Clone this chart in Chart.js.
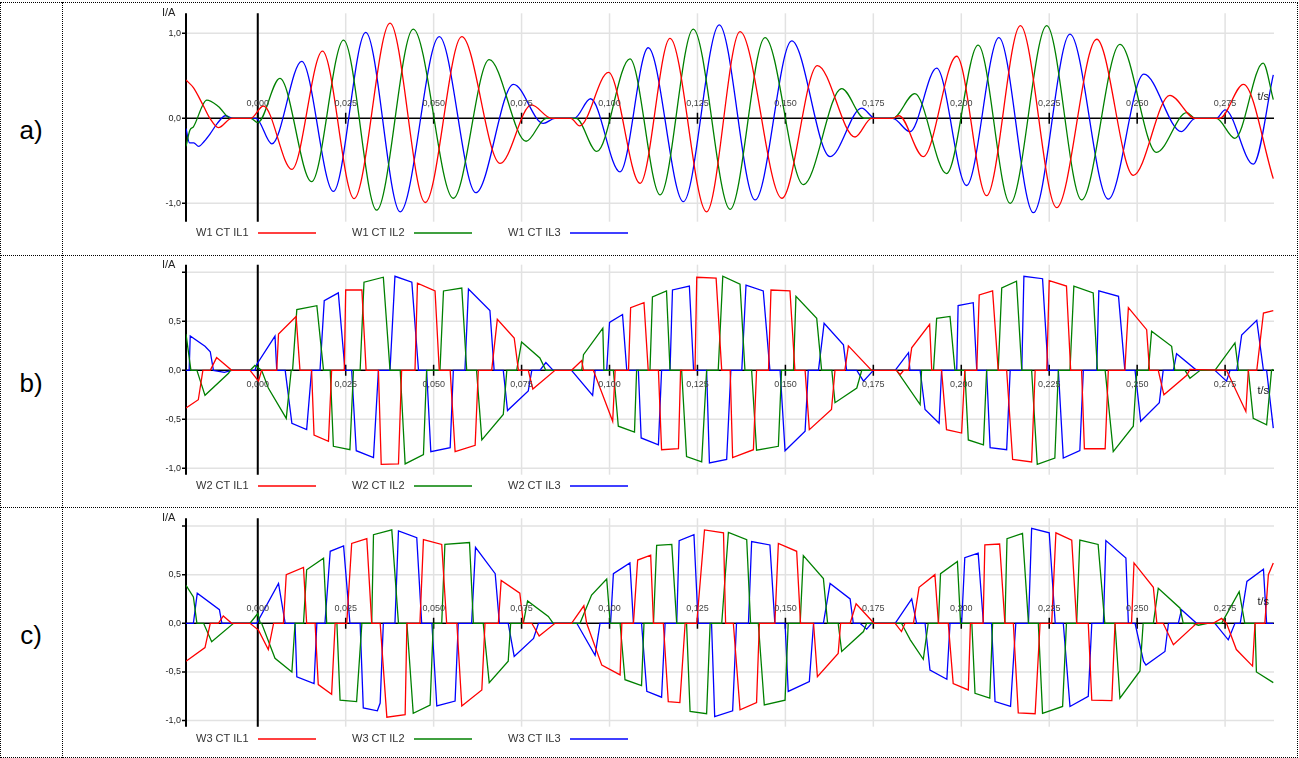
<!DOCTYPE html>
<html>
<head>
  <meta charset="utf-8">
  <title>W1/W2/W3 CT IL</title>
  <script src="https://cdn.jsdelivr.net/npm/chart.js@4.4.1/dist/chart.umd.min.js"></script>
  <style>
    body { margin: 0; background: #fff; font-family: "Liberation Sans", Arial, sans-serif; }
    #page { position: relative; width: 1299px; height: 758px; overflow: hidden; }
    .frame { position: absolute; border: 1px dotted #000; box-sizing: border-box; }
    .hsep { position: absolute; left: 0; width: 1298px; border-top: 1px dotted #000; }
    .vsep { position: absolute; left: 62px; top: 2px; height: 756px; border-left: 1px dotted #000; }
    .tag { position: absolute; left: 0; width: 62px; text-align: center; font-size: 26px; line-height: 30px; color: #000; }
    canvas { position: absolute; left: 0; }
  </style>
</head>
<body>
<div id="page">
  <div class="frame" style="left:0;top:2px;width:1298px;height:756px"></div>
  <div class="hsep" style="top:255px"></div>
  <div class="hsep" style="top:507px"></div>
  <div class="vsep"></div>
  <div class="tag" style="top:115px">a)</div>
  <div class="tag" style="top:368px">b)</div>
  <div class="tag" style="top:620px">c)</div>
  <canvas id="ca" width="1299" height="253" style="top:0"></canvas>
  <canvas id="cb" width="1299" height="253" style="top:253px"></canvas>
  <canvas id="cc" width="1299" height="252" style="top:506px"></canvas>
</div>
<script>
  // time in ms, current in A

  var X_MIN = -20.4, X_MAX = 288.9;
  var X_TICKS = [0, 25, 50, 75, 100, 125, 150, 175, 200, 225, 250, 275];
  var X_LABELS = ['0,000', '0,025', '0,050', '0,075', '0,100', '0,125', '0,150', '0,175', '0,200', '0,225', '0,250', '0,275'];
  var Y_TICKS_A = [-1, 0, 1];
  var Y_LABELS_A = ['-1,0', '0,0', '1,0'];
  var Y_TICKS_BC = [-1, -0.5, 0, 0.5, 1];
  var Y_LABELS_BC = ['-1,0', '-0,5', '0,0', '0,5', ''];
  var COLORS = ['#ff0000', '#008000', '#0000ff'];

  var NAMES_A = ['W1 CT IL1', 'W1 CT IL2', 'W1 CT IL3'];
  var NAMES_B = ['W2 CT IL1', 'W2 CT IL2', 'W2 CT IL3'];
  var NAMES_C = ['W3 CT IL1', 'W3 CT IL2', 'W3 CT IL3'];

  // a) peaks / troughs of the sine-like currents
  var A_IL1 = [[-20.4,0.45],[-18.3,0.36],[-15.5,0.15],[-13.6,0],[-11.2,-0.11],[-7.4,0],[-2.0,0],[1.6,0.145],[9.7,-0.60],[18.4,0.79],[27.4,-0.945],[37.6,1.12],[47.6,-0.99],[58.0,0.96],[68.9,-0.53],[77.8,0.157],[83.5,0],[89.0,0],[91.5,-0.09],[99.7,0.54],[108.7,-0.765],[117.2,0.94],[127.6,-1.10],[137.1,1.02],[149.0,-0.94],[159.1,0.62],[169.8,-0.22],[174.5,0],[180.5,0],[182.3,0.03],[189.2,-0.45],[198.7,0.73],[207.2,-0.91],[216.8,1.09],[227.1,-1.05],[238.5,0.93],[248.9,-0.67],[259.3,0.27],[266.5,0],[273.5,0],[280.2,0.40],[288.7,-0.71]];
  var A_IL2 = [[-20.4,-0.33],[-19.3,-0.14],[-18.3,-0.10],[-14.5,0.215],[-11.2,0.14],[-7.7,0],[-2.0,0],[0,-0.05],[6.3,0.47],[15.3,-0.745],[24.4,0.92],[33.8,-1.08],[44.2,1.05],[55.6,-0.94],[65.8,0.69],[76.3,-0.27],[82.0,0],[90.5,0],[96.4,-0.39],[105.8,0.70],[114.4,-0.90],[123.8,1.05],[134.3,-1.07],[144.2,0.95],[155.1,-0.78],[166.0,0.35],[172.5,0],[180.5,0],[186.8,0.29],[195.8,-0.65],[204.8,0.86],[213.9,-1.0],[224.3,1.09],[234.2,-0.96],[245.1,0.87],[255.5,-0.40],[264.1,0.067],[266.5,0],[272.5,0],[277.8,-0.235],[285.8,0.65],[288.7,0.22]];
  var A_IL3 = [[-20.4,-0.12],[-19.4,-0.29],[-18.2,-0.29],[-16.8,-0.33],[-15.2,-0.27],[-13.5,-0.18],[-11.5,-0.06],[-9.2,0.03],[-7.0,0],[-0.5,0],[4.0,-0.30],[12.5,0.67],[21.5,-0.86],[30.7,1.01],[40.5,-1.10],[51.6,0.96],[62.0,-0.875],[72.7,0.40],[81.2,-0.06],[84.5,0],[90.0,0],[94.6,0.23],[103.0,-0.63],[111.0,0.83],[121.0,-0.98],[131.2,1.10],[141.4,-0.96],[151.8,0.91],[162.7,-0.45],[171.7,0.12],[175.5,0],[180.5,0],[185.4,-0.157],[193.0,0.59],[201.5,-0.79],[210.7,0.95],[220.5,-1.11],[230.9,0.99],[241.8,-0.95],[251.9,0.52],[262.6,-0.157],[266.5,0],[272.5,0],[275.0,0.10],[283.0,-0.54],[288.7,0.51]];

  // b) pulse shaped currents, corner points
  var B_IL1 = [[-20.4,-0.385],[-16.9,-0.30],[-15.6,0],[-13.5,0],[-11.7,0.13],[-7.4,0],[-2.2,0],[0.2,-0.11],[1.1,0],[5.4,0],[5.9,0.37],[10.9,0.55],[12.0,0],[15.3,0],[16.0,-0.66],[20.1,-0.725],[21.0,0],[24.6,0],[25.0,0.82],[29.6,0.82],[30.8,0],[34.3,0],[35.1,-0.96],[40.0,-0.955],[40.9,0],[44.7,0],[45.4,0.89],[50.4,0.81],[51.6,0],[54.7,0],[56.1,-0.83],[61.8,-0.765],[62.7,0],[66.5,0],[68.1,0.52],[72.9,0.33],[74.1,0],[76.9,0],[78.2,-0.19],[84.5,0],[89.2,0],[92.1,0.10],[92.6,0],[95.4,0],[100.9,-0.52],[101.6,0],[105.4,0],[106.0,0.64],[109.8,0.69],[111.0,0],[113.9,0],[114.8,-0.81],[119.6,-0.80],[120.2,0],[124.3,0],[124.8,0.95],[130.3,0.94],[131.9,0],[134.3,0],[135.0,-0.89],[140.9,-0.81],[141.8,0],[145.2,0],[145.9,0.82],[151.3,0.81],[152.7,0],[155.6,0],[156.8,-0.605],[163.1,-0.40],[164.1,0],[166.9,0],[167.9,0.25],[174.5,0],[181.6,0],[182.6,-0.045],[183.6,0],[185.0,0],[185.9,0.23],[191.0,0.47],[191.6,0],[194.4,0],[195.8,-0.605],[200.1,-0.64],[201.0,0],[204.4,0],[205.1,0.77],[208.9,0.81],[210.5,0],[212.9,0],[214.6,-0.91],[220.0,-0.935],[221.0,0],[224.3,0],[225.0,0.915],[229.9,0.86],[231.1,0],[234.2,0],[235.0,-0.80],[240.9,-0.80],[241.8,0],[246.5,0],[247.5,0.64],[252.7,0.415],[253.5,0],[256.0,0],[257.6,-0.25],[264.1,-0.05],[265.0,0.01],[275.4,0],[280.9,-0.42],[281.6,0],[284.0,0],[285.9,0.585],[288.7,0.61]];
  var B_IL2 = [[-20.4,0.37],[-19.0,0],[-17.3,0],[-15.0,-0.255],[-8.3,-0.03],[-7.8,0],[-2.2,0],[-0.8,0.05],[1.1,0],[3.0,-0.18],[8.1,-0.49],[9.5,0],[9.9,0],[11.1,0.62],[16.8,0.66],[18.7,0],[20.6,0],[21.5,-0.775],[26.2,-0.81],[27.2,0],[29.1,0],[30.2,0.90],[35.7,0.95],[37.6,0],[40.5,0],[41.9,-0.955],[47.1,-0.86],[48.0,0],[51.8,0],[52.8,0.81],[58.0,0.84],[59.4,0],[62.2,0],[63.7,-0.71],[69.8,-0.45],[70.8,0],[73.6,0],[75.0,0.29],[80.2,0.126],[81.9,0],[92.1,0],[92.6,0.16],[98.1,0.43],[98.4,0],[101.1,0],[102.5,-0.57],[107.1,-0.63],[107.7,0],[111.5,0],[112.2,0.75],[116.2,0.81],[117.2,0],[120.5,0],[121.9,-0.88],[126.2,-0.935],[127.6,0],[130.9,0],[132.2,0.96],[137.1,0.88],[138.5,0],[140.4,0],[141.8,-0.815],[148.0,-0.775],[148.9,0],[152.3,0],[153.0,0.755],[158.9,0.53],[160.3,0],[163.2,0],[164.1,-0.33],[170.3,-0.18],[171.7,0],[181.6,0],[188.3,-0.35],[188.7,0],[192.1,0],[193.0,0.53],[196.8,0.55],[198.2,0],[201.0,0],[202.0,-0.71],[206.3,-0.76],[207.2,0],[210.5,0],[211.5,0.84],[215.7,0.91],[217.2,0],[220.0,0],[221.6,-0.96],[226.6,-0.895],[227.6,0],[230.9,0],[232.0,0.86],[237.5,0.79],[238.7,0],[240.9,0],[243.2,-0.83],[248.9,-0.57],[249.9,0],[253.2,0],[254.1,0.40],[259.8,0.245],[260.7,0],[263.6,0],[265.0,-0.08],[267.9,0],[272.1,0],[277.8,0.28],[278.8,0],[281.6,0],[283.0,-0.49],[286.8,-0.555],[288.2,0],[288.7,0.01]];
  var B_IL3 = [[-20.4,0],[-19.5,0],[-19.2,0.35],[-15.0,0.245],[-13.5,0.19],[-12.6,0],[-9.5,-0.02],[-7.4,0],[-0.8,0],[-0.3,0.06],[4.9,0.35],[5.4,0],[7.8,0],[9.7,-0.54],[13.9,-0.605],[15.3,0],[17.7,0],[18.9,0.71],[22.9,0.79],[24.8,0],[26.7,0],[28.0,-0.82],[32.9,-0.89],[34.3,0],[37.6,0],[39.0,0.96],[43.8,0.90],[45.7,0],[48.0,0],[49.2,-0.83],[54.7,-0.79],[55.6,0],[58.9,0],[59.9,0.83],[66.0,0.61],[67.2,0],[69.8,0],[71.0,-0.41],[76.9,-0.21],[77.9,0],[80.2,0],[81.9,0.08],[84.0,0],[89.2,0],[95.2,-0.255],[95.9,0],[99.2,0],[100.0,0.49],[103.7,0.57],[104.9,0],[108.2,0],[109.0,-0.69],[113.9,-0.76],[114.8,0],[117.2,0],[117.9,0.82],[122.7,0.86],[123.9,0],[127.6,0],[128.4,-0.945],[133.3,-0.91],[134.5,0],[137.6,0],[138.8,0.87],[143.7,0.81],[145.6,0],[148.5,0],[149.9,-0.82],[155.6,-0.62],[156.5,0],[159.4,0],[161.0,0.48],[166.5,0.26],[167.4,0],[170.3,0],[172.2,-0.11],[175.0,0],[181.2,0],[185.0,0.18],[185.4,0],[188.3,0],[189.7,-0.40],[193.7,-0.54],[194.4,0],[198.7,0],[199.1,0.66],[203.4,0.69],[204.4,0],[207.2,0],[208.2,-0.79],[212.9,-0.81],[213.9,0],[217.2,0],[217.8,0.96],[223.1,0.935],[224.7,0],[227.6,0],[229.0,-0.895],[233.7,-0.82],[234.7,0],[238.5,0],[239.1,0.81],[244.7,0.755],[246.5,0],[249.4,0],[251.0,-0.52],[256.3,-0.33],[257.4,0],[260.3,0],[261.2,0.17],[266.9,0],[272.1,0],[275.4,-0.11],[276.4,0],[278.3,0],[279.7,0.36],[284.0,0.51],[285.9,0],[286.8,0],[288.7,-0.59]];

  // c)
  var C_IL1 = [[-20.4,-0.39],[-15.0,-0.25],[-13.5,0],[-11.2,0],[-9.8,0.075],[-7.4,0],[-2.2,0],[0.2,-0.07],[3.0,-0.27],[4.5,0],[7.3,0],[8.1,0.50],[13.0,0.575],[13.9,0],[16.3,0],[17.2,-0.63],[21.0,-0.73],[22.0,0],[25.3,0],[26.7,0.82],[31.0,0.87],[32.4,0],[34.8,0],[36.7,-0.965],[41.9,-0.94],[42.4,0],[46.1,0],[47.1,0.86],[52.3,0.81],[53.7,0],[56.6,0],[58.0,-0.85],[63.7,-0.685],[64.6,0],[68.4,0],[69.2,0.44],[74.5,0.31],[75.5,0],[77.9,0],[80.0,-0.13],[84.5,0],[89.2,0],[92.7,0.18],[93.5,0],[97.8,-0.43],[103.0,-0.53],[103.5,0],[106.8,0],[108.0,0.65],[111.7,0.70],[112.5,0],[115.3,0],[116.7,-0.805],[120.0,-0.815],[121.5,0],[124.8,0],[127.0,0.96],[132.4,0.93],[133.0,0],[135.2,0],[137.1,-0.89],[141.8,-0.815],[142.6,0],[147.0,0],[148.0,0.82],[153.2,0.74],[154.3,0],[158.0,0],[159.1,-0.55],[165.0,-0.31],[165.7,0],[168.4,0],[170.1,0.20],[175.2,0],[181.2,0],[183.0,-0.085],[184.0,0],[186.4,0],[188.0,0.37],[192.5,0.50],[193.5,0],[196.3,0],[197.7,-0.62],[202.0,-0.685],[202.6,0],[206.2,0],[206.7,0.805],[210.9,0.815],[212.4,0],[214.8,0],[216.2,-0.92],[221.0,-0.93],[222.4,0],[225.7,0],[226.9,0.93],[231.4,0.855],[232.8,0],[236.1,0],[237.1,-0.79],[242.8,-0.795],[243.7,0],[248.4,0],[249.1,0.62],[254.6,0.37],[255.6,0],[257.4,0],[260.3,-0.22],[266.9,0],[271.6,0],[274.0,0.05],[275.4,0],[278.2,-0.27],[282.8,-0.44],[283.5,0],[286.3,0],[287.3,0.50],[288.7,0.62]];
  var C_IL2 = [[-20.4,0.39],[-18.3,0.27],[-17.3,0],[-15.4,0],[-13.1,-0.19],[-6.9,0],[-2.2,0],[0,0.10],[0.7,0],[1.1,0],[4.9,-0.36],[9.7,-0.50],[10.6,0],[13.0,0],[13.9,0.55],[18.7,0.67],[19.6,0],[22.5,0],[23.4,-0.79],[28.1,-0.805],[29.6,0],[32.4,0],[32.9,0.91],[38.1,0.96],[40.0,0],[42.4,0],[44.2,-0.925],[49.0,-0.84],[49.9,0],[52.3,0],[53.2,0.81],[60.2,0.83],[61.3,0],[64.1,0],[65.8,-0.61],[71.2,-0.39],[71.9,0],[75.5,0],[76.7,0.23],[82.6,0.07],[84.0,0],[91.6,0],[94.9,0.29],[99.2,0.455],[100.2,0],[103.0,0],[104.4,-0.58],[109.1,-0.64],[109.8,0],[112.5,0],[113.4,0.80],[117.7,0.81],[119.1,0],[121.9,0],[122.9,-0.905],[127.6,-0.93],[128.6,0],[131.9,0],[133.8,0.935],[139.0,0.86],[140.1,0],[142.3,0],[144.0,-0.84],[149.9,-0.79],[150.8,0],[154.2,0],[155.1,0.695],[160.8,0.46],[162.0,0],[165.0,0],[166.0,-0.29],[172.2,-0.085],[173.1,0],[183.0,0],[185.5,-0.17],[189.2,-0.37],[190.6,0],[193.5,0],[194.1,0.51],[198.9,0.635],[199.8,0],[203.0,0],[203.9,-0.72],[208.1,-0.77],[208.9,0],[212.4,0],[213.0,0.87],[217.4,0.925],[219.1,0],[221.9,0],[223.1,-0.925],[228.8,-0.855],[229.9,0],[232.8,0],[233.7,0.855],[238.9,0.81],[240.8,0],[243.7,0],[245.1,-0.77],[250.8,-0.49],[251.7,0],[254.6,0],[256.0,0.36],[262.2,0.155],[263.1,0],[265.9,0],[267.4,-0.02],[270.0,0],[274.0,0],[279.0,0.325],[280.6,0],[283.5,0],[283.9,-0.50],[288.7,-0.61]];
  var C_IL3 = [[-20.4,0],[-18.3,0],[-17.2,0.31],[-10.9,0.14],[-10.2,0],[-7.4,0],[-0.3,0],[5.9,0.41],[7.8,0],[10.6,0],[11.1,-0.55],[16.0,-0.62],[16.8,0],[19.1,0],[20.6,0.74],[24.4,0.795],[26.2,0],[29.1,0],[30.0,-0.87],[34.0,-0.90],[34.8,-0.82],[35.7,0],[39.0,0],[40.0,0.95],[45.2,0.88],[46.6,0],[49.5,0],[50.9,-0.85],[56.1,-0.80],[57.0,0],[60.8,0],[61.9,0.78],[67.5,0.51],[68.7,0],[71.2,0],[72.9,-0.34],[78.4,-0.155],[79.8,0],[90.7,0],[95.9,-0.33],[97.3,0],[100.3,0],[101.1,0.51],[105.8,0.62],[106.8,0],[109.1,0],[110.6,-0.70],[114.8,-0.76],[115.8,0],[119.1,0],[119.8,0.85],[124.0,0.91],[125.2,0],[129.0,0],[129.9,-0.96],[135.0,-0.90],[136.1,0],[139.5,0],[140.4,0.84],[145.6,0.805],[147.0,0],[149.9,0],[150.8,-0.70],[156.8,-0.60],[158.0,0],[160.8,0],[162.7,0.41],[168.4,0.25],[169.3,0],[171.2,0],[173.1,-0.06],[174.5,0],[181.2,0],[185.9,0.25],[187.3,0],[189.7,0],[191.1,-0.48],[195.9,-0.575],[196.8,0],[200.1,0],[201.0,0.675],[204.8,0.72],[206.3,0],[208.6,0],[209.6,-0.805],[214.0,-0.855],[215.5,0],[219.1,0],[220.0,0.975],[225.0,0.93],[226.7,0],[229.0,0],[230.9,-0.855],[236.1,-0.75],[237.1,0],[240.4,0],[241.1,0.85],[246.8,0.67],[247.5,0],[249.4,0],[251.8,-0.39],[252.5,-0.43],[257.9,-0.29],[258.9,0],[261.7,0],[262.6,0.14],[266.9,0],[272.1,0],[275.9,-0.17],[277.8,0],[279.3,0],[281.2,0.43],[285.9,0.555],[286.8,0],[288.7,0]];

  var PANELS = [
    { id: 'ca', series: [A_IL1, A_IL2, A_IL3], names: NAMES_A, smooth: true, h: 253,
      top: 13.3, bottom: 221.7, yMin: -1.216, yMax: 1.235, yTicks: Y_TICKS_A, yLabels: Y_LABELS_A, side: -1 },
    { id: 'cb', series: [B_IL1, B_IL2, B_IL3], names: NAMES_B, smooth: false, h: 253,
      top: 11.7, bottom: 221.7, yMin: -1.065, yMax: 1.078, yTicks: Y_TICKS_BC, yLabels: Y_LABELS_BC, side: 1 },
    { id: 'cc', series: [C_IL1, C_IL2, C_IL3], names: NAMES_C, smooth: false, h: 252,
      top: 12.3, bottom: 220.7, yMin: -1.063, yMax: 1.079, yTicks: Y_TICKS_BC, yLabels: Y_LABELS_BC, side: -1 }
  ];

  var FONT = '"Liberation Sans", Arial, sans-serif';

  function toPoints(arr) {
    return arr.map(function(p) { return { x: p[0], y: p[1] }; });
  }

  // grid, axes, labels and legend drawn against the chart's own scales
  function makeDeco(panel) {
    return {
      id: 'deco',
      beforeDatasetsDraw: function(chart) {
        var ctx = chart.ctx, ca = chart.chartArea, sx = chart.scales.x, sy = chart.scales.y;
        var y0 = sy.getPixelForValue(0);
        ctx.save();
        ctx.strokeStyle = '#e2e2e2';
        ctx.lineWidth = 1.5;
        X_TICKS.forEach(function(t) {
          var px = sx.getPixelForValue(t);
          ctx.beginPath(); ctx.moveTo(px, ca.top); ctx.lineTo(px, ca.bottom); ctx.stroke();
        });
        panel.yTicks.forEach(function(v) {
          if (v === 0) return;
          var py = sy.getPixelForValue(v);
          ctx.beginPath(); ctx.moveTo(ca.left, py); ctx.lineTo(ca.right, py); ctx.stroke();
        });

        ctx.strokeStyle = '#000';
        ctx.lineWidth = 2;
        var p0 = sx.getPixelForValue(0);
        ctx.beginPath();
        ctx.moveTo(ca.left, ca.top); ctx.lineTo(ca.left, ca.bottom);
        ctx.moveTo(p0, ca.top); ctx.lineTo(p0, ca.bottom);
        ctx.stroke();

        ctx.lineWidth = 1.5;
        ctx.beginPath();
        ctx.moveTo(ca.left, y0); ctx.lineTo(ca.right, y0);
        X_TICKS.forEach(function(t) {
          var px = sx.getPixelForValue(t);
          ctx.moveTo(px, y0 - 5.5); ctx.lineTo(px, y0 + 5.5);
        });
        panel.yTicks.forEach(function(v) {
          var py = sy.getPixelForValue(v);
          ctx.moveTo(ca.left - 4, py); ctx.lineTo(ca.left, py);
        });
        ctx.stroke();
        ctx.restore();
      },
      afterDatasetsDraw: function(chart) {
        var ctx = chart.ctx, ca = chart.chartArea, sx = chart.scales.x, sy = chart.scales.y;
        var y0 = sy.getPixelForValue(0);
        ctx.save();
        ctx.textBaseline = 'middle';

        ctx.font = '9px ' + FONT;
        ctx.fillStyle = '#444';
        ctx.textAlign = 'center';
        X_TICKS.forEach(function(t, i) {
          ctx.fillText(X_LABELS[i], sx.getPixelForValue(t), y0 + panel.side * 14.5);
        });

        ctx.fillStyle = '#222';
        ctx.textAlign = 'right';
        panel.yTicks.forEach(function(v, i) {
          ctx.fillText(panel.yLabels[i], ca.left - 5, sy.getPixelForValue(v));
        });

        ctx.font = '11px ' + FONT;
        ctx.fillStyle = '#222';
        ctx.textAlign = 'left';
        ctx.fillText('I/A', 162, ca.top);
        ctx.textAlign = 'right';
        ctx.fillText('t/s', 1269, y0 + panel.side * 21);

        // legend under the plot: name, then a short line in the series colour
        var ly = 233;
        ctx.textAlign = 'left';
        ctx.fillStyle = '#333';
        panel.names.forEach(function(name, i) {
          var lx = 196 + 156 * i;
          ctx.fillText(name, lx, ly);
          ctx.strokeStyle = COLORS[i];
          ctx.lineWidth = 1.5;
          ctx.beginPath(); ctx.moveTo(lx + 62, ly); ctx.lineTo(lx + 120, ly); ctx.stroke();
        });
        ctx.restore();
      }
    };
  }

  PANELS.forEach(function(panel) {
    new Chart(document.getElementById(panel.id), {
      type: 'line',
      data: {
        datasets: panel.series.map(function(s, i) {
          return {
            label: panel.names[i],
            data: toPoints(s),
            borderColor: COLORS[i],
            borderWidth: 1.3,
            pointRadius: 0,
            fill: false,
            tension: panel.smooth ? 0.4 : 0,
            cubicInterpolationMode: panel.smooth ? 'monotone' : 'default'
          };
        })
      },
      options: {
        responsive: false,
        animation: false,
        devicePixelRatio: 1,
        events: [],
        layout: { padding: { left: 186, right: 1299 - 1274, top: panel.top, bottom: panel.h - panel.bottom } },
        scales: {
          x: { type: 'linear', min: X_MIN, max: X_MAX, display: false },
          y: { type: 'linear', min: panel.yMin, max: panel.yMax, display: false }
        },
        plugins: { legend: { display: false }, tooltip: { enabled: false } }
      },
      plugins: [makeDeco(panel)]
    });
  });
</script>
</body>
</html>
